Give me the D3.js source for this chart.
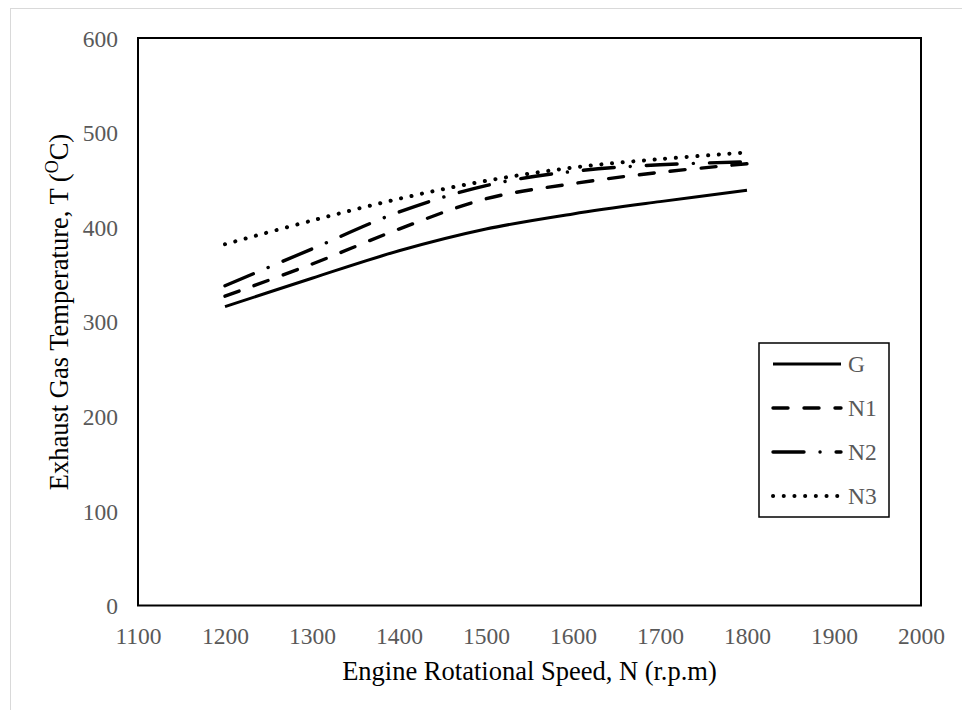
<!DOCTYPE html>
<html>
<head>
<meta charset="utf-8">
<script src="https://cdn.jsdelivr.net/npm/d3@7"></script>
<style>
  body { margin: 0; background: #fff; }
  svg { font-family: "Liberation Serif", "Times New Roman", serif; }
</style>
</head>
<body>
<svg id="chart" width="962" height="710"></svg>
<script>
// engine speed (r.p.m)
var speeds = [1200, 1300, 1400, 1500, 1600, 1700, 1800];
// exhaust gas temperature (°C)
var tempG  = [316, 346, 375, 398, 414, 427, 439];
var tempN1 = [327, 361, 398, 430, 446, 458, 467];
var tempN2 = [338, 377, 416, 444, 459, 466, 469];
var tempN3 = [382, 407, 430, 449, 463, 472, 479];
var seriesNames = ["G", "N1", "N2", "N3"];
var xTicks = [1100, 1200, 1300, 1400, 1500, 1600, 1700, 1800, 1900, 2000];
var yTicks = [0, 100, 200, 300, 400, 500, 600];

var series = [
  {name: "G",  values: tempG,  dash: null, w: 3},
  {name: "N1", values: tempN1, dash: "15,16", w: 3.4},
  {name: "N2", values: tempN2, dash: "31,16,0.1,16", w: 3.4},
  {name: "N3", values: tempN3, dash: "0.1,10.6", w: 4}
];

var svg = d3.select("#chart");
var plotL = 138, plotR = 921, plotT = 38, plotB = 605.5;

var x = d3.scaleLinear().domain([1100, 2000]).range([plotL, plotR]);
var y = d3.scaleLinear().domain([0, 600]).range([plotB, plotT]);

// outer chart-area border
svg.append("rect")
  .attr("x", 10.5).attr("y", 8.5)
  .attr("width", 1000).attr("height", 800)
  .attr("fill", "none").attr("stroke", "#d9d9d9").attr("stroke-width", 1);

// axes (labels only)
var gx = svg.append("g")
  .attr("transform", "translate(0," + plotB + ")")
  .call(d3.axisBottom(x).tickValues(xTicks).tickSize(0).tickPadding(0).tickFormat(d3.format("d")));
gx.select(".domain").remove();
gx.selectAll("text")
  .attr("y", 38).attr("dy", null)
  .attr("fill", "#595959").style("font-size", "23.5px")
  .style("font-family", "'Liberation Serif', 'Times New Roman', serif");

var gy = svg.append("g")
  .attr("transform", "translate(118,0)")
  .call(d3.axisLeft(y).tickValues(yTicks).tickSize(0).tickPadding(0).tickFormat(d3.format("d")));
gy.select(".domain").remove();
gy.selectAll("text")
  .attr("x", 0).attr("dy", "0.35em")
  .attr("fill", "#595959").style("font-size", "23.5px")
  .style("font-family", "'Liberation Serif', 'Times New Roman', serif");

// plot frame
svg.append("rect")
  .attr("x", plotL).attr("y", plotT)
  .attr("width", plotR - plotL).attr("height", plotB - plotT)
  .attr("fill", "none").attr("stroke", "#000").attr("stroke-width", 2);

// lines
var line = d3.line()
  .x(function(d, i) { return x(speeds[i]); })
  .y(function(d) { return y(d); })
  .curve(d3.curveCatmullRom.alpha(0.5));

svg.append("g").selectAll("path")
  .data(series)
  .join("path")
  .attr("d", function(d) { return line(d.values); })
  .attr("fill", "none")
  .attr("stroke", "#000")
  .attr("stroke-width", function(d) { return d.w; })
  .attr("stroke-linecap", function(d) { return d.dash ? "round" : "butt"; })
  .attr("stroke-dasharray", function(d) { return d.dash; });

// axis titles
svg.append("text")
  .attr("x", (plotL + plotR) / 2).attr("y", 680)
  .attr("text-anchor", "middle")
  .style("font-size", "26.5px")
  .text("Engine Rotational Speed, N (r.p.m)");

var yt = svg.append("text")
  .attr("transform", "translate(68,312) rotate(-90)")
  .attr("text-anchor", "middle")
  .style("font-size", "26.5px");
yt.append("tspan").text("Exhaust Gas Temperature, T (");
yt.append("tspan").attr("dy", -10).style("font-size", "18px").text("O");
yt.append("tspan").attr("dy", 10).text("C)");

// legend
var lg = svg.append("g");
lg.append("rect")
  .attr("x", 759).attr("y", 343)
  .attr("width", 130).attr("height", 174)
  .attr("fill", "#fff").attr("stroke", "#000").attr("stroke-width", 1.5);

var item = lg.selectAll("g.item")
  .data(series)
  .join("g")
  .attr("class", "item")
  .attr("transform", function(d, i) { return "translate(0," + (364 + i * 44) + ")"; });

item.append("line")
  .attr("x1", 773).attr("x2", 841)
  .attr("stroke", "#000")
  .attr("stroke-width", function(d) { return d.w; })
  .attr("stroke-linecap", function(d) { return d.dash ? "round" : "butt"; })
  .attr("stroke-dasharray", function(d) { return d.dash; });

item.append("text")
  .attr("x", 848).attr("dy", "0.35em")
  .attr("fill", "#595959")
  .style("font-size", "23.5px")
  .text(function(d, i) { return seriesNames[i]; });
</script>
</body>
</html>
